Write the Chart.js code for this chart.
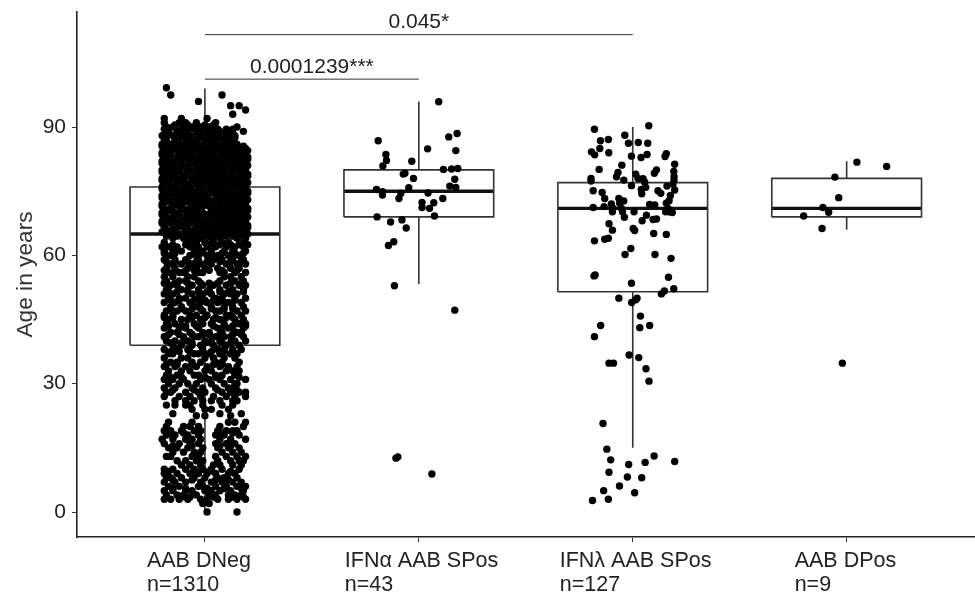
<!DOCTYPE html>
<html>
<head>
<meta charset="utf-8">
<title>Age by AAB group</title>
<script src="https://cdn.jsdelivr.net/npm/chart.js@4"></script>
<style>
    body { margin: 0; background: #fff; }
</style>
</head>
<body>
<canvas id="chart" width="975" height="593"></canvas>
<script>
const categories = ["AAB DNeg", "IFNα AAB SPos", "IFNλ AAB SPos", "AAB DPos"];
const counts = ["n=1310", "n=43", "n=127", "n=9"];
const yTicks = [0, 30, 60, 90];

// box stats, one entry per group
const q1 = [39, 69, 51.5, 69];
const median = [65, 75, 71, 71];
const q3 = [76, 80, 77, 78];
const whiskerLow = [0, 53.3, 15, 66];
const whiskerHigh = [99, 96, 90, 82];

// significance brackets
const bracketFrom = [1, 1];
const bracketTo = [3, 2];
const bracketAge = [111.6, 101.2];
const bracketText = ["0.045*", "0.0001239***"];
const bracketTextX = [2, 1.5];
const bracketTextAge = [114.4, 104.1];

// AAB DNeg: ages, and for each age the sideways jitter of its dots (hundredths of a category)
const dnegAges = [99.2, 97.5, 96, 95, 94, 93, 92, 91, 90, 89, 88, 87, 86, 85, 84, 83, 82, 81, 80, 79, 78, 77, 76, 75, 74, 73, 72, 71, 70, 69, 68, 67, 66, 65, 64, 63, 62, 61, 60, 59, 58, 57, 56, 55, 54, 53, 52, 51, 50, 49, 48, 47, 46, 45, 44, 43, 42, 41, 40, 39, 38, 37, 36, 35, 34, 33, 32, 31, 30, 29, 28, 27, 26, 25, 24, 23, 22.5, 21, 20, 19, 18, 17, 16, 15, 14, 13, 12, 11, 10, 9, 8, 7, 6, 5, 4, 3, 2, 0];
const dnegJitter = [
    [-18], [-16, 8], [-3], [12, 16], [19], [13], [-19, -11, 1],
    [-19, -12, -9, -4, 5],
    [-18, -15, -10, -6, -2, 2, 15],
    [-17, -13, -8, -3, 1, 4, 7, 18],
    [-20, -15, -11, -7, -2, 3, 8, 11, 14],
    [-19, -14, -9, -5, 0, 5, 10, 13],
    [-20, -16, -12, -7, -3, 2, 6, 11, 15],
    [-18, -14, -9, -5, -1, 4, 8, 12, 16, 19],
    [-20, -16, -11, -7, -2, 2, 7, 10, 14, 18],
    [-19, -13, -9, -4, 1, 5, 9, 12, 16, 20],
    [-20, -15, -11, -6, -2, 3, 6, 11, 15, 18],
    [-18, -14, -8, -4, 0, 5, 9, 13, 17, 20],
    [-20, -16, -12, -7, -2, 2, 7, 12, 15, 19],
    [-19, -14, -9, -5, -1, 4, 9, 11, 16, 20],
    [-20, -16, -11, -6, -3, 2, 6, 10, 14, 18],
    [-18, -13, -9, -4, 1, 5, 8, 13, 17, 20],
    [-20, -15, -10, -7, -2, 3, 7, 12, 15, 19],
    [-19, -14, -12, -6, -1, 4, 9, 11, 16, 20],
    [-20, -17, -11, -8, -3, 1, 6, 10, 14, 18],
    [-18, -13, -9, -4, 2, 5, 8, 13, 17, 20],
    [-20, -15, -11, -6, -1, 3, 7, 11, 15, 19],
    [-19, -16, -10, -7, -3, 4, 9, 12, 16, 20],
    [-20, -14, -12, -5, -1, 6, 10, 14, 18],
    [-18, -15, -9, -6, -2, 3, 7, 11, 16, 20],
    [-20, -16, -11, -7, -1, 1, 5, 9, 13, 19],
    [-19, -13, -10, -4, -2, 4, 8, 12, 16, 20],
    [-18, -15, -8, -5, 2, 6, 10, 14, 18],
    [-17, -12, -7, -3, 1, 5, 9, 13, 17, 20],
    [-15, -10, -6, -2, 3, 7, 15, 19],
    [-19, -8, -4, 0, 4, 8, 11, 18],
    [-20, -17, -13, -7, -3, 1, 5, 10, 14, 18],
    [-19, -15, -11, -5, -1, 3, 9, 13, 19],
    [-18, -16, -7, -4, 1, 6, 11, 16],
    [-19, -14, -9, -3, 2, 4, 8, 13, 18],
    [-17, -16, -11, -6, -2, 3, 10, 15, 19],
    [-18, -14, -8, -4, 0, 6, 12, 16],
    [-17, -12, -10, -3, -1, 7, 9, 14, 19],
    [-19, -15, -8, -5, 9, 12, 17],
    [-18, -12, -9, -3, 7, 14, 18],
    [-16, -13, -6, -1, 4, 10, 16, 19],
    [-18, -11, -8, -3, 2, 7, 13, 18],
    [-19, -15, -6, -1, 3, 9, 12, 15],
    [-17, -12, -9, -3, 5, 8, 14, 19],
    [-19, -14, -7, -2, 1, 6, 11, 17],
    [-16, -11, -5, -3, 3, 9, 13, 18],
    [-18, -13, -9, -1, 5, 7, 15, 19],
    [-19, -15, -7, -4, 1, 10, 12, 17],
    [-17, -11, -8, -2, 4, 7, 14, 18],
    [-18, -14, -5, -1, 3, 9, 16, 19],
    [-19, -12, -9, -3, 6, 11, 13, 18],
    [-16, -13, -7, -1, 2, 8, 15, 17],
    [-19, -10, -5, -3, 5, 9, 12, 18],
    [-18, -14, -8, 0, 3, 7, 14, 19],
    [-15, -11, -6, -2, 4, 10, 16],
    [-19, -13, -8, -1, 6, 9, 13, 17],
    [-17, -15, -5, -3, 2, 7, 12, 15],
    [-19, -11, -8, 0, 4, 9, 14],
    [-16, -13, -6, -2, 5, 8, 16],
    [-19, -14, -9, -4, 1, 7, 11, 15],
    [-17, -11, -7, 0, 3, 10, 13, 16],
    [-18, -13, -5, -3, 5, 8, 14],
    [-19, -15, -10, -2, 2, 7, 12, 19],
    [-17, -12, -8, -4, 3, 9, 14, 15],
    [-19, -14, -6, -1, 5, 11, 13],
    [-18, -16, -9, -3, 0, 8, 12, 16, 19],
    [-19, -12, -7, -2, 4, 10, 14, 19],
    [-14, -9, -5, -1, 3, 7, 13, 15],
    [-18, -14, -9, -7, -1, 8, 13],
    [-6, 0, 3, 11],
    [-15, 7, 17],
    [-4, 0, 12],
    [-17, -6, 11, 14, 19],
    [-18, -10, -7, -3, 7, 18],
    [-19, -16, -11, -5, -2, 6, 10, 13, 15],
    [-18, -14, -8, -3, 5, 9, 16],
    [-20, -15, -9, -6, -2, 7, 12, 19],
    [-19, -12, -7, -3, 5, 10, 14],
    [-17, -13, -8, -1, 6, 11, 16],
    [-15, -10, -5, -2, 8, 13, 17],
    [-18, -16, -6, -3, 5, 10, 15, 19],
    [-13, -9, -4, -1, 6, 12, 16, 18],
    [-11, -7, -2, 4, 7, 13, 17],
    [-19, -15, -9, -5, -1, 3, 8, 16],
    [-19, -13, -7, -3, 1, 5, 11, 14],
    [-18, -16, -11, -5, 0, 6, 9, 15],
    [-19, -14, -9, -2, 3, 8, 13, 17],
    [-17, -12, -3, -1, 5, 10, 15, 19],
    [-19, -15, -9, -6, 0, 3, 7, 12, 18],
    [-18, -13, -10, -4, 2, 5, 11, 14, 17],
    [-19, -16, -12, -8, -2, 1, 6, 11, 15, 19],
    [-1, 2],
    [1, 15]
];

// second pass over the dense parts of the same column, ages between the rows above
const dnegAgesB = [90.5, 89.5, 88.5, 87.5, 86.5, 85.5, 84.5, 83.5, 82.5, 81.5, 80.5, 79.5, 78.5, 77.5, 76.5, 75.5, 74.5, 73.5, 72.5, 71.5, 70.5, 69.5, 68.5, 67.5, 66.5, 65.5, 64.5, 62.5, 60.5, 58.5, 56.5, 53.5, 51.5, 49.5, 47.5, 45.5, 43.5, 41.5, 39.5, 37.5, 34.5, 31.5, 28.5, 18.5, 15.5, 9.5, 7.5, 5.5, 3.5];
const dnegJitterB = [
    [-14, -8, -4, 0, 4],
    [-19, -11, -5, -1, 6, 10, 13],
    [-17, -13, -9, -4, 1, 5, 10, 13],
    [-18, -12, -7, -3, 2, 7, 12, 14],
    [-18, -14, -9, -5, 0, 4, 9, 13],
    [-20, -16, -11, -7, -3, 2, 6, 10, 14, 18],
    [-18, -13, -9, -5, 0, 4, 9, 12, 16, 20],
    [-20, -16, -11, -6, -2, 3, 7, 10, 14, 18],
    [-18, -13, -8, -4, 0, 5, 8, 13, 17, 20],
    [-20, -16, -11, -6, -2, 2, 7, 11, 15, 19],
    [-18, -14, -9, -4, 0, 4, 9, 14, 17],
    [-20, -16, -12, -7, -3, 2, 6, 13, 18],
    [-18, -14, -9, -4, 0, 4, 8, 12, 16, 20],
    [-20, -16, -11, -6, -2, 3, 7, 11, 15, 19],
    [-18, -13, -8, -4, 0, 5, 9, 14, 17],
    [-20, -16, -10, -8, -3, 2, 6, 13, 18],
    [-18, -14, -9, -5, -1, 4, 8, 12, 16, 20],
    [-20, -16, -11, -6, -2, 0, 7, 11, 15, 19],
    [-18, -13, -8, -4, 1, 5, 9, 13, 17],
    [-20, -15, -12, -5, -1, 2, 7, 14, 18],
    [-18, -16, -9, -7, -3, 3, 8, 12, 16, 20],
    [-20, -12, -8, -4, 1, 5, 9, 13, 18],
    [-18, -14, -9, -5, -3, 3, 7, 11, 15, 17],
    [-20, -16, -12, -7, 1, 6, 10, 14, 18],
    [-19, -13, -10, -3, 0, 4, 8, 12, 16, 20],
    [-20, -15, -9, -5, -1, 3, 7, 11, 15, 19],
    [-18, -13, -8, -4, 1, 5, 10, 13, 17],
    [-15, -9, -5, 2, 7, 12, 16, 20],
    [-19, -14, -2, 3, 8, 14, 18],
    [-18, -14, -8, -4, 1, 7, 12, 17],
    [-19, -14, -9, -5, 2, 8, 15],
    [-19, -14, -8, -2, 2, 6, 12, 17],
    [-17, -13, -8, -3, 1, 7, 11, 18],
    [-16, -12, -5, 0, 4, 8, 14],
    [-16, -11, -6, -2, 3, 9, 13],
    [-19, -15, -6, 0, 5, 10, 13],
    [-17, -11, -9, -4, 4, 9, 13, 19],
    [-17, -12, -6, -1, 2, 7, 13, 17],
    [-16, -11, -6, 0, 3, 8, 12],
    [-16, -12, -7, -1, 3, 9, 13],
    [-18, -13, -6, 4, 8],
    [-16, -11, 0, 5, 16],
    [-15, -5, 6, 15],
    [-16, -10, 7, 13],
    [-15, -6, 7, 12],
    [-17, -4, 2, 12],
    [-15, -6, 5, 11],
    [-15, -9, 1, 9, 17],
    [-11, -7, 4, 13, 18]
];

// smaller groups: one dot per entry
const alphaJitter = [.093, .179, .140, -.19, .041, .173, -.154, -.151, -.033, -.168, .115, .153, .182, -.073, -.065, -.025, .168, .145, .173, -.047, -.198, -.170, -.170, .043, -.084, -.093, .112, .015, .07, .015, .05, -.195, .073, -.132, -.079, -.059, -.117, -.142, -.114, .168, -.107, -.098, .061];
const alphaAges = [95.9, 88.5, 87.7, 86.8, 84.9, 84.5, 83.6, 82.2, 82.0, 80.9, 80.1, 80.2, 80.3, 79.0, 79.2, 78.0, 77.8, 76.2, 75.9, 75.8, 75.4, 74.9, 74.1, 74.6, 74.5, 73.3, 73.3, 72.4, 72.3, 71.2, 71.0, 69.0, 69.2, 67.8, 68.3, 66.4, 63.2, 62.3, 52.9, 47.2, 12.6, 12.9, 8.9];

const lambdaJitter = [.075, -.179, -.037, -.151, -.114, -.02, .026, .07, -.154, -.193, -.178, -.112, -.006, .039, .067, .157, .151, .196, -.051, -.157, .111, .101, -.069, .192, .193, -.076, .014, .025, -.195, -.195, -.042, .048, .056, .193, .188, -.006, .16, .061, .04, .196, -.185, .118, .131, -.143, .042, .176, -.131, .17, -.065, -.042, .157, -.1, -.061, .079, .103, -.185, -.134, -.092, -.053, .165, .154, .185, .17, -.095, -.048, .006, .064, .044, -.039, .095, .111, -.111, -.095, .002, .009, .098, .157, -.179, -.131, -.114, -.009, -.036, .104, .179, -.181, -.176, .167, -.006, .192, .148, .134, -.065, .02, .014, -.005, .036, -.15, .079, .033, -.179, -.017, .028, -.111, -.09, .062, .076, -.139, -.121, -.103, .1, .196, .058, -.019, -.111, -.025, .042, -.062, -.136, .009, -.114, -.188];
const lambdaAges = [90.3, 89.5, 88.1, 86.8, 87.1, 86.2, 86.4, 86.2, 85.0, 84.2, 83.5, 84.0, 83.2, 82.9, 83.6, 83.8, 83.1, 81.3, 81.1, 80.1, 80.0, 79.2, 79.4, 79.6, 78.4, 78.4, 79.0, 78.0, 78.0, 77.4, 77.6, 77.9, 77.1, 77.6, 76.7, 76.3, 76.2, 75.9, 75.4, 75.3, 75.1, 75.1, 74.5, 74.7, 74.4, 74.0, 73.3, 72.8, 73.3, 72.7, 72.2, 72.0, 72.2, 71.9, 71.8, 71.2, 71.4, 71.0, 71.0, 71.0, 70.2, 70.0, 70.2, 70.2, 70.2, 70.2, 69.4, 68.1, 68.9, 68.4, 68.5, 67.4, 65.9, 66.3, 65.8, 65.1, 64.9, 63.4, 63.8, 64.0, 61.6, 60.2, 60.2, 59.3, 55.2, 55.4, 54.9, 53.5, 52.2, 51.7, 51.0, 50.0, 50.0, 49.6, 49.0, 45.8, 43.6, 43.6, 43.1, 41.0, 36.7, 36.1, 34.8, 34.8, 33.5, 30.6, 20.7, 14.7, 12.2, 13.1, 11.8, 11.6, 11.1, 9.3, 8.2, 8.0, 6.1, 5.0, 4.5, 3.0, 2.7];

const dposJitter = [.048, .187, -.055, -.037, -.111, -.084, -.201, -.115, -.02];
const dposAges = [81.8, 80.8, 78.3, 73.5, 71.2, 70.1, 69.2, 66.3, 34.8];

const boxWidth = 0.35;
const lineColor = "#333";
const fontFamily = "'Liberation Sans', Arial, sans-serif";

function jitteredPoints(center, jitter, ages) {
    return ages.map((age, i) => ({ x: center + jitter[i], y: age }));
}

const dnegPoints = [];
dnegAges.forEach((age, i) => {
    dnegJitter[i].forEach(j => dnegPoints.push({ x: 1 + j / 100, y: age }));
});
dnegAgesB.forEach((age, i) => {
    dnegJitterB[i].forEach(j => dnegPoints.push({ x: 1 + j / 100, y: age }));
});

const allPoints = dnegPoints.concat(
    jitteredPoints(2, alphaJitter, alphaAges),
    jitteredPoints(3, lambdaJitter, lambdaAges),
    jitteredPoints(4, dposJitter, dposAges)
);

function lineSet(data, width, color) {
    return {
        type: "scatter",
        data: data,
        showLine: true,
        spanGaps: false,
        borderColor: color || lineColor,
        borderWidth: width,
        pointRadius: 0,
        fill: false
    };
}

const datasets = [{
    type: "scatter",
    data: allPoints,
    backgroundColor: "#000",
    pointRadius: 3.7,
    pointBorderWidth: 0
}];

categories.forEach((name, i) => {
    const c = i + 1;
    const l = c - boxWidth;
    const r = c + boxWidth;
    datasets.push(lineSet([
        { x: l, y: q1[i] }, { x: r, y: q1[i] }, { x: r, y: q3[i] }, { x: l, y: q3[i] }, { x: l, y: q1[i] }
    ], 1.6));
    datasets.push(lineSet([{ x: l, y: median[i] }, { x: r, y: median[i] }], 3.4, "#111"));
    datasets.push(lineSet([
        { x: c, y: q3[i] }, { x: c, y: whiskerHigh[i] }, { x: c, y: null },
        { x: c, y: q1[i] }, { x: c, y: whiskerLow[i] }
    ], 1.6));
});

bracketAge.forEach((age, i) => {
    datasets.push(lineSet([{ x: bracketFrom[i], y: age }, { x: bracketTo[i], y: age }], 1));
});

// tick labels are drawn here: x ones are left aligned inside each group, y ones
// would otherwise push the top of the axis down
const labelPlugin = {
    id: "labelPlugin",
    afterDraw(chart) {
        const ctx = chart.ctx;
        const xs = chart.scales.x;
        const ys = chart.scales.y;
        const labelShift = [-58, -74, -73, -52];
        ctx.save();
        ctx.fillStyle = "#222";
        ctx.textBaseline = "middle";
        ctx.font = "21.5px " + fontFamily;
        ctx.textAlign = "left";
        categories.forEach((name, i) => {
            const left = xs.getPixelForValue(i + 1) + labelShift[i];
            ctx.fillText(name, left, chart.chartArea.bottom + 24);
            ctx.fillText(counts[i], left, chart.chartArea.bottom + 48);
        });
        ctx.textAlign = "center";
        ctx.font = "21px " + fontFamily;
        bracketText.forEach((text, i) => {
            ctx.fillText(text, xs.getPixelForValue(bracketTextX[i]), ys.getPixelForValue(bracketTextAge[i]));
        });
        ctx.textAlign = "right";
        yTicks.forEach(v => {
            ctx.fillText(String(v), chart.chartArea.left - 11, ys.getPixelForValue(v));
        });
        ctx.restore();
    }
};

new Chart(document.getElementById("chart"), {
    type: "scatter",
    data: { datasets: datasets },
    plugins: [labelPlugin],
    options: {
        responsive: false,
        animation: false,
        layout: { autoPadding: false, padding: { top: 12, right: 0, bottom: 0, left: 0 } },
        plugins: {
            legend: { display: false },
            tooltip: { enabled: false }
        },
        scales: {
            x: {
                type: "linear",
                min: 0.402,
                max: 4.6,
                afterBuildTicks(scale) {
                    scale.ticks = categories.map((name, i) => ({ value: i + 1 }));
                },
                afterFit(scale) { scale.height = 56; },
                ticks: { display: false },
                grid: { drawOnChartArea: false, drawTicks: true, tickLength: 5, color: lineColor },
                border: { display: true, color: "#222", width: 1.6 }
            },
            y: {
                type: "linear",
                min: -5.84,
                max: 116.9,
                afterBuildTicks(scale) {
                    scale.ticks = yTicks.map(v => ({ value: v }));
                },
                afterFit(scale) { scale.width = 77; },
                title: {
                    display: true,
                    text: "Age in years",
                    color: "#333",
                    font: { family: fontFamily, size: 22.7 },
                    padding: { top: 12, bottom: 0 }
                },
                ticks: { display: false },
                grid: { drawOnChartArea: false, drawTicks: true, tickLength: 5, color: lineColor },
                border: { display: true, color: "#222", width: 1.6 }
            }
        }
    }
});
</script>
</body>
</html>
